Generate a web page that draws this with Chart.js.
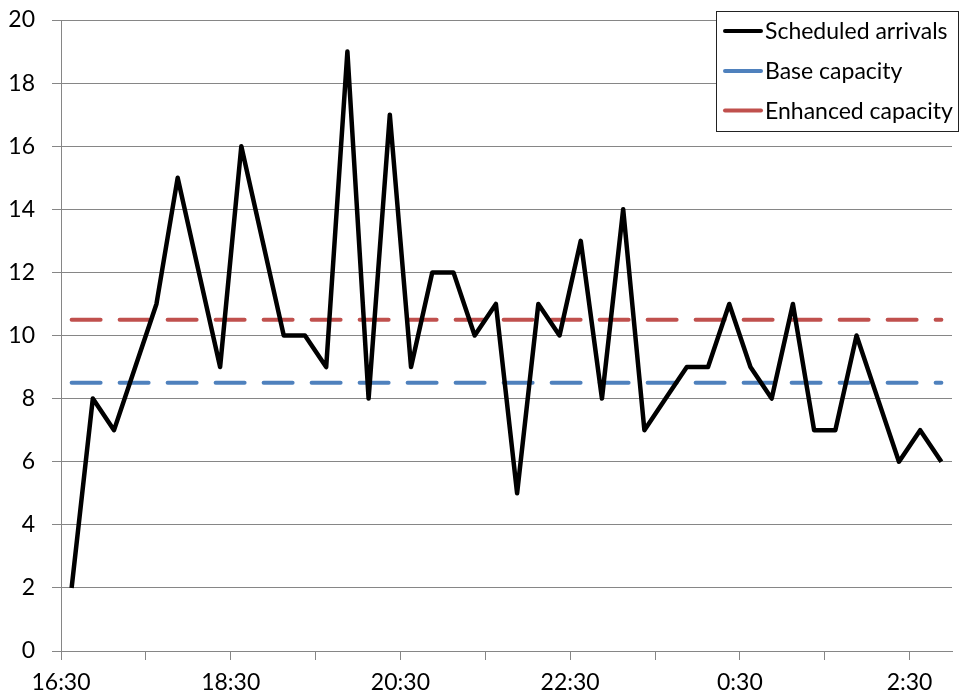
<!DOCTYPE html>
<html>
<head>
<meta charset="utf-8">
<title>Scheduled arrivals vs capacity</title>
<script src="https://cdn.jsdelivr.net/npm/chart.js@4.4.1/dist/chart.umd.min.js"></script>
<style>
  html, body { margin: 0; padding: 0; background: #fff; overflow: hidden; }
</style>
</head>
<body>
<canvas id="chart" width="960" height="695"></canvas>
<script>
// 15 minute slots, 16:30 to 2:45
const slots = [
    '16:30', '16:45', '17:00', '17:15', '17:30', '17:45', '18:00', '18:15',
    '18:30', '18:45', '19:00', '19:15', '19:30', '19:45', '20:00', '20:15',
    '20:30', '20:45', '21:00', '21:15', '21:30', '21:45', '22:00', '22:15',
    '22:30', '22:45', '23:00', '23:15', '23:30', '23:45', '0:00', '0:15',
    '0:30', '0:45', '1:00', '1:15', '1:30', '1:45', '2:00', '2:15',
    '2:30', '2:45'
];

const arrivals = [
    2, 8, 7, 9, 11, 15, 12, 9, 16, 13,
    10, 10, 9, 19, 8, 17, 9, 12, 12, 10,
    11, 5, 11, 10, 13, 8, 14, 7, 8, 9,
    9, 11, 9, 8, 11, 7, 7, 10, 8, 6,
    7, 6
];

const baseCapacity = 8.5;
const enhancedCapacity = 10.5;

const FONT = { family: 'Lato', size: 23 };
const GRID = '#868686';

// points sit in the middle of their slot
const toPoints = values => values.map((v, i) => ({ x: i + 0.5, y: v }));
const level = v => slots.map((s, i) => ({ x: i + 0.5, y: v }));

// excel style legend box, sitting over the top right of the plot
const boxLegend = {
    id: 'boxLegend',
    afterDraw(chart) {
        const ctx = chart.ctx;
        const left = 716;
        const top = 11;
        const w = chart.width - left - 2;
        ctx.save();
        ctx.fillStyle = '#fff';
        ctx.fillRect(left, top, w, 120);
        ctx.strokeStyle = '#222';
        ctx.lineWidth = 1;
        ctx.strokeRect(left + 0.5, top + 0.5, w, 120);

        ctx.font = FONT.size + 'px ' + FONT.family;
        ctx.textBaseline = 'middle';
        ctx.textAlign = 'left';
        const rows = [31, 71, 110.5];
        chart.data.datasets.forEach((ds, i) => {
            const y = rows[i];
            ctx.beginPath();
            ctx.strokeStyle = ds.borderColor;
            ctx.lineWidth = 4;
            ctx.lineCap = 'round';
            ctx.moveTo(left + 9, y);
            ctx.lineTo(left + 45, y);
            ctx.stroke();
            ctx.fillStyle = '#000';
            ctx.fillText(ds.label, left + 49, y + 1);
        });
        ctx.restore();
    }
};

new Chart(document.getElementById('chart'), {
    type: 'line',
    data: {
        datasets: [
            {
                label: 'Scheduled arrivals',
                data: toPoints(arrivals),
                borderColor: '#000000',
                borderWidth: 4.5,
                borderJoinStyle: 'round'
            },
            {
                label: 'Base capacity',
                data: level(baseCapacity),
                borderColor: '#4F81BD',
                borderWidth: 4,
                borderDash: [29, 19],
                borderCapStyle: 'round'
            },
            {
                label: 'Enhanced capacity',
                data: level(enhancedCapacity),
                borderColor: '#C0504D',
                borderWidth: 4,
                borderDash: [29, 19],
                borderCapStyle: 'round'
            }
        ]
    },
    options: {
        responsive: false,
        animation: false,
        devicePixelRatio: 1,
        elements: { point: { radius: 0 }, line: { tension: 0 } },
        layout: { padding: { top: 20, right: 8, left: 0, bottom: 0 } },
        plugins: { legend: { display: false }, tooltip: { enabled: false } },
        scales: {
            x: {
                type: 'linear',
                min: 0,
                max: slots.length,
                afterBuildTicks: scale => {
                    scale.ticks = scale.ticks.filter(t => Math.round(t.value) % 4 === 0 && t.value < slots.length);
                },
                afterFit: scale => { scale.height = 44; },
                ticks: {
                    stepSize: 4,
                    autoSkip: false,
                    maxRotation: 0,
                    padding: 9,
                    color: '#000',
                    font: FONT,
                    callback: v => Math.round(v) % 8 === 0 ? slots[Math.round(v)] : ''
                },
                grid: { drawOnChartArea: false, tickLength: 9, color: GRID },
                border: { color: GRID }
            },
            y: {
                min: 0,
                max: 20,
                afterFit: scale => {
                    scale.width = 61;
                    // let layout padding alone decide the top edge
                    scale.paddingTop = 0;
                    scale.paddingBottom = 0;
                },
                ticks: { stepSize: 2, padding: 17, color: '#000', font: FONT },
                grid: { tickLength: 9, color: GRID },
                border: { color: GRID }
            }
        }
    },
    plugins: [boxLegend]
});
</script>
</body>
</html>
